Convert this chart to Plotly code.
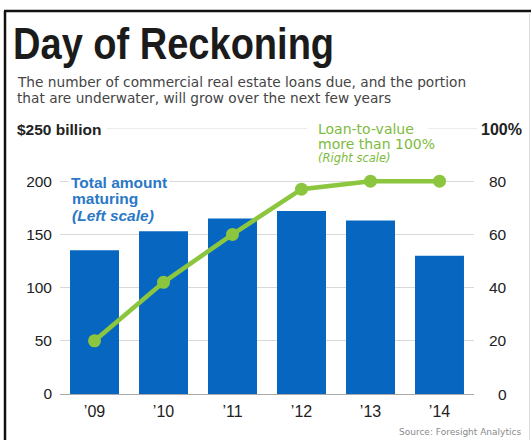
import plotly.graph_objects as go

# Data
years = ["’09", "’10", "’11", "’12", "’13", "’14"]
total_maturing = [135, 153, 165, 172, 163, 130]      # $ billion, left scale
ltv_over_100 = [20, 42, 60, 77, 80, 80]             # percent, right scale
left_ticks = [0, 50, 100, 150, 200]
right_ticks = [0, 20, 40, 60, 80]

TITLE = "Day of Reckoning"

W, H = 531, 440
ML, MR, MT, MB = 60, 57, 128, 46
PW, PH = W - ML - MR, H - MT - MB

BLUE = "#0767c0"
GREEN = "#8cc63f"
GREEN_TXT = "#7dbb3c"
GRID = "#d9d9d9"
INK = "#222222"
BODY = "DejaVu Sans, Arial, sans-serif"
SANS = "Liberation Sans, Arial, sans-serif"


def px(x):
    return (x - ML) / PW


def py(y):
    return (H - MB - y) / PH


fig = go.Figure()
fig.add_trace(go.Bar(
    x=years, y=total_maturing, marker_color=BLUE, marker_line_width=0,
    yaxis="y", hoverinfo="skip",
))
fig.add_trace(go.Scatter(
    x=years, y=ltv_over_100, yaxis="y2", mode="lines+markers",
    line=dict(color=GREEN, width=4.5), marker=dict(color=GREEN, size=13),
    hoverinfo="skip",
))

ann = []


def text(x, y, s, size, color, family=BODY, xanchor="left", bg=None, **kw):
    d = dict(x=px(x), y=py(y), xref="paper", yref="paper", text=s, showarrow=False,
             xanchor=xanchor, yanchor="middle",
             font=dict(size=size, color=color, family=family))
    if bg:
        d.update(bgcolor=bg, borderpad=2)
    d.update(kw)
    ann.append(d)


# Headline and deck
text(11, 43, "<b>" + TITLE + "</b>", 45, "#1b1b1b", family=SANS)
text(15, 82, "The number of commercial real estate loans due, and the portion", 13.7, "#444")
text(15, 98, "that are underwater, will grow over the next few years", 13.7, "#444")

# Top-of-scale labels
text(15, 129, "<b>$250 billion</b>", 15.5, INK, family=SANS)
text(524, 129, "<b>100%</b>", 16, INK, family=SANS, xanchor="right")

# Right scale labels, right-aligned
for v in right_ticks:
    ann.append(dict(x=px(509), y=v, xref="paper", yref="y2", text=str(v), showarrow=False,
                    xanchor="right", yanchor="middle",
                    font=dict(size=15.5, color=INK, family=SANS)))

# Series labels
text(68, 182, "<b>Total amount</b>", 15.5, "#2a78c6", family=SANS, bg="white")
text(70, 198, "<b>maturing</b>", 15.5, "#2a78c6", family=SANS)
text(70, 215, "<b><i>(Left scale)</i></b>", 15.5, "#2a78c6", family=SANS)
text(316, 129, "Loan-to-value", 14, GREEN_TXT)
text(316, 144, "more than 100%", 14, GREEN_TXT)
text(316, 158, "<i>(Right scale)</i>", 11.5, GREEN_TXT)

# Source line
text(523, 432, "Source: Foresight Analytics", 9, "#8a8a8a", xanchor="right")

shapes = [
    # Top scale rule, broken around its labels
    dict(type="line", xref="paper", yref="y", x0=px(107), x1=px(307), y0=250, y1=250,
         line=dict(color=GRID, width=1), layer="below"),
    dict(type="line", xref="paper", yref="y", x0=px(428), x1=px(477), y0=250, y1=250,
         line=dict(color=GRID, width=1), layer="below"),
    # Frame
    dict(type="line", xref="paper", yref="paper", x0=px(5), x1=px(5), y0=py(11), y1=py(445),
         line=dict(color="#111", width=2.5)),
    dict(type="line", xref="paper", yref="paper", x0=px(4), x1=px(535), y0=py(11), y1=py(11),
         line=dict(color="#111", width=2.5)),
    dict(type="line", xref="paper", yref="paper", x0=px(529.5), x1=px(529.5), y0=py(12), y1=py(445),
         line=dict(color="#dddddd", width=1)),
]

fig.update_layout(
    width=W, height=H, autosize=False,
    margin=dict(l=ML, r=MR, t=MT, b=MB, pad=0),
    paper_bgcolor="white", plot_bgcolor="white",
    showlegend=False, bargap=0.29,
    font=dict(family=SANS, color=INK),
    xaxis=dict(
        showgrid=False, showline=False, ticks="", zeroline=False,
        tickfont=dict(size=16, color=INK), ticklabelstandoff=6,
        range=[-0.5, 5.5],
    ),
    yaxis=dict(
        range=[0, 250], tickvals=left_ticks, showgrid=True, gridcolor=GRID, gridwidth=1,
        zeroline=True, zerolinecolor="#a8a8a8", zerolinewidth=1,
        showline=False, ticks="", tickfont=dict(size=15.5, color=INK),
        ticklabelstandoff=7,
    ),
    yaxis2=dict(
        range=[0, 100], overlaying="y", side="right", showgrid=False, zeroline=False,
        showticklabels=False, ticks="",
    ),
    annotations=ann,
    shapes=shapes,
)

# The headline face is a condensed grotesque; narrow the bold sans horizontally.
condense_js = """
document.querySelectorAll('text.annotation-text').forEach(function (t) {
  if (t.textContent === '%s') {
    t.style.transformBox = 'fill-box';
    t.style.transformOrigin = 'left center';
    t.style.transform = 'scaleX(0.845)';
  }
});
""" % TITLE

fig.write_html("out.html", config=dict(displayModeBar=False), post_script=condense_js)
